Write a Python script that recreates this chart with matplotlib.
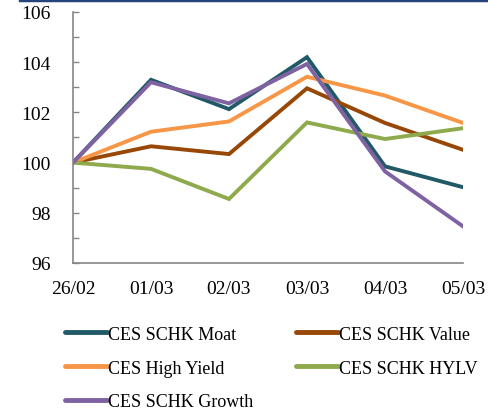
import matplotlib
matplotlib.use('Agg')
import matplotlib.pyplot as plt
from matplotlib.lines import Line2D

dates = ['26/02', '01/03', '02/03', '03/03', '04/03', '05/03']

moat = [100.0, 103.30, 102.13, 104.20, 99.85, 99.02]
value = [100.0, 100.65, 100.34, 102.96, 101.58, 100.51]
high_yield = [100.0, 101.23, 101.64, 103.42, 102.67, 101.58]
hylv = [100.0, 99.75, 98.55, 101.60, 100.94, 101.37]
growth = [100.0, 103.20, 102.36, 103.93, 99.65, 97.46]

series = [
    ('CES SCHK Moat', moat, '#215967'),
    ('CES SCHK Value', value, '#974706'),
    ('CES High Yield', high_yield, '#F79646'),
    ('CES SCHK HYLV', hylv, '#8EAA4C'),
    ('CES SCHK Growth', growth, '#7F62A1'),
]

plt.rcParams['font.family'] = ['Liberation Serif', 'DejaVu Serif']

fig = plt.figure(figsize=(4.89, 4.10), dpi=100)
ax = fig.add_axes([0.1493, 0.3561, 0.7975, 0.6122])

x = list(range(len(dates)))
handles = {}
for label, vals, color in series:
    line, = ax.plot(x, vals, color=color, lw=2.8, label=label,
                    solid_joinstyle='miter')
    handles[label] = line

ax.set_xlim(0, len(dates) - 1)
ax.set_ylim(96, 106)
ax.set_yticks(range(96, 107, 2))
ax.set_yticks(range(97, 106, 2), minor=True)
ax.set_xticks(x)
ax.set_xticklabels(dates)

for side in ['top', 'right']:
    ax.spines[side].set_visible(False)
for side in ['left', 'bottom']:
    ax.spines[side].set_color('#868686')
    ax.spines[side].set_linewidth(1.2)

ax.tick_params(axis='y', which='both', direction='in', length=4,
               color='#868686', width=1, labelsize=14, pad=16)
ax.tick_params(axis='x', length=0, labelsize=14, pad=12)

order = ['CES SCHK Moat', 'CES High Yield', 'CES SCHK Growth',
         'CES SCHK Value', 'CES SCHK HYLV']
leg = fig.legend([handles[k] for k in order], order, ncol=2,
                 loc='upper left', bbox_to_anchor=(0.133, 0.203),
                 frameon=False, fontsize=13, handlelength=2.3,
                 handletextpad=0.1, columnspacing=2.35, labelspacing=0.93,
                 borderaxespad=0, borderpad=0)
for h in leg.legend_handles:
    h.set_linewidth(3.5)
    h.set_solid_capstyle('round')

fig.add_artist(Line2D([0.041, 1.0], [0.997, 0.997], color='#24457A',
                      lw=2.5, transform=fig.transFigure))

fig.savefig('out.png', dpi=100)
